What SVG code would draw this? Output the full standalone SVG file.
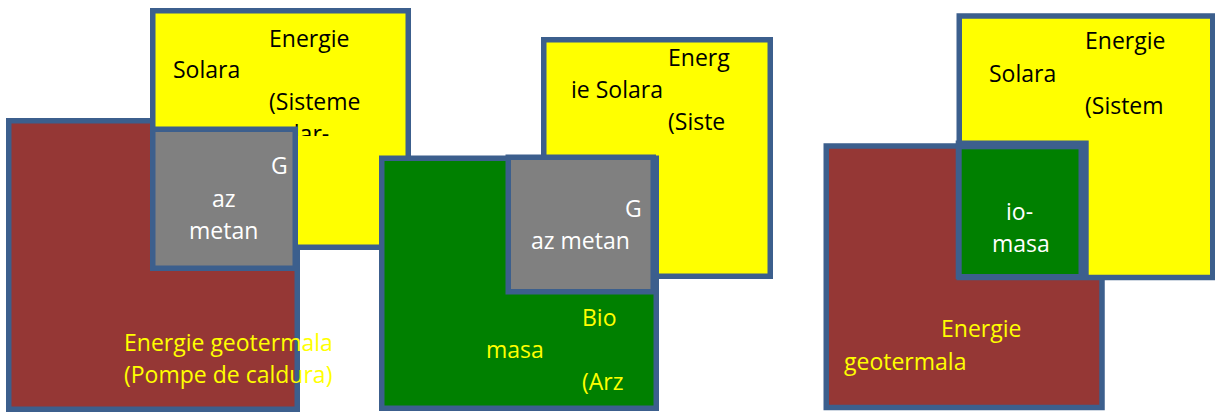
<svg xmlns="http://www.w3.org/2000/svg" width="1215" height="412" viewBox="0 0 1215 412">
<defs>
<style>
.box{stroke:#3C5F8D;stroke-width:5.5;}
.red{fill:#953735;}
.yel{fill:#FFFF00;}
.gry{fill:#808080;}
.grn{fill:#008000;}
text{font-family:"Open Sans","Liberation Sans",sans-serif;font-size:23px;}
.tb{fill:#000000;}
.tw{fill:#FFFFFF;}
.ty{fill:#FFFF00;}
</style>
<clipPath id="clipY1"><rect x="150" y="8" width="262" height="128"/></clipPath>
</defs>
<rect width="1215" height="412" fill="#FFFFFF"/>

<g id="geo1">
<rect class="box red" x="8.75" y="120.75" width="288.5" height="288.5"/>
<text class="ty" x="124" y="351">Energie geotermala</text>
<text class="ty" x="124" y="383">(Pompe de caldura)</text>
</g>
<g id="solar1">
<rect class="box yel" x="152.75" y="10.75" width="255.5" height="236.5"/>
<g clip-path="url(#clipY1)">
<text class="tb" x="269" y="47">Energie</text>
<text class="tb" x="173" y="78">Solara</text>
<text class="tb" x="269" y="110">(Sisteme</text>
<text class="tb" x="269" y="142">solar-</text>
</g>
</g>
<g id="gaz1">
<rect class="box gry" x="152.75" y="129.25" width="142.5" height="139"/>
<text class="tw" x="271" y="174">G</text>
<text class="tw" x="212" y="207">az</text>
<text class="tw" x="189" y="239">metan</text>
</g>

<g id="solar2">
<rect class="box yel" x="543.75" y="39.75" width="226.5" height="236.5"/>
<text class="tb" x="668" y="66">Energ</text>
<text class="tb" x="571" y="98">ie Solara</text>
<text class="tb" x="668" y="130">(Siste</text>
</g>
<g id="bio2">
<rect class="box grn" x="381.75" y="158.25" width="274.5" height="250"/>
<text class="ty" x="582" y="326">Bio</text>
<text class="ty" x="486" y="358">masa</text>
<text class="ty" x="582" y="390">(Arz</text>
</g>
<g id="gaz2">
<rect class="box gry" x="508.25" y="157.25" width="145" height="134.5"/>
<text class="tw" x="625" y="217">G</text>
<text class="tw" x="531" y="249">az metan</text>
</g>

<g id="geo3">
<rect class="box red" x="826.25" y="146" width="275.75" height="261.5"/>
<text class="ty" x="941" y="337">Energie</text>
<text class="ty" x="844" y="370">geotermala</text>
</g>
<g id="solar3">
<rect class="box yel" x="959.25" y="16" width="253.5" height="261.5"/>
<text class="tb" x="1085" y="49">Energie</text>
<text class="tb" x="989" y="82">Solara</text>
<text class="tb" x="1085" y="114">(Sistem</text>
</g>
<g id="bio3">
<rect x="955.7" y="140.5" width="133" height="138.5" fill="#3C5F8D"/>
<rect class="grn" x="961.7" y="149.3" width="116.8" height="124.7"/>
<text class="tw" x="1006" y="220">io-</text>
<text class="tw" x="992" y="252">masa</text>
</g>
</svg>
